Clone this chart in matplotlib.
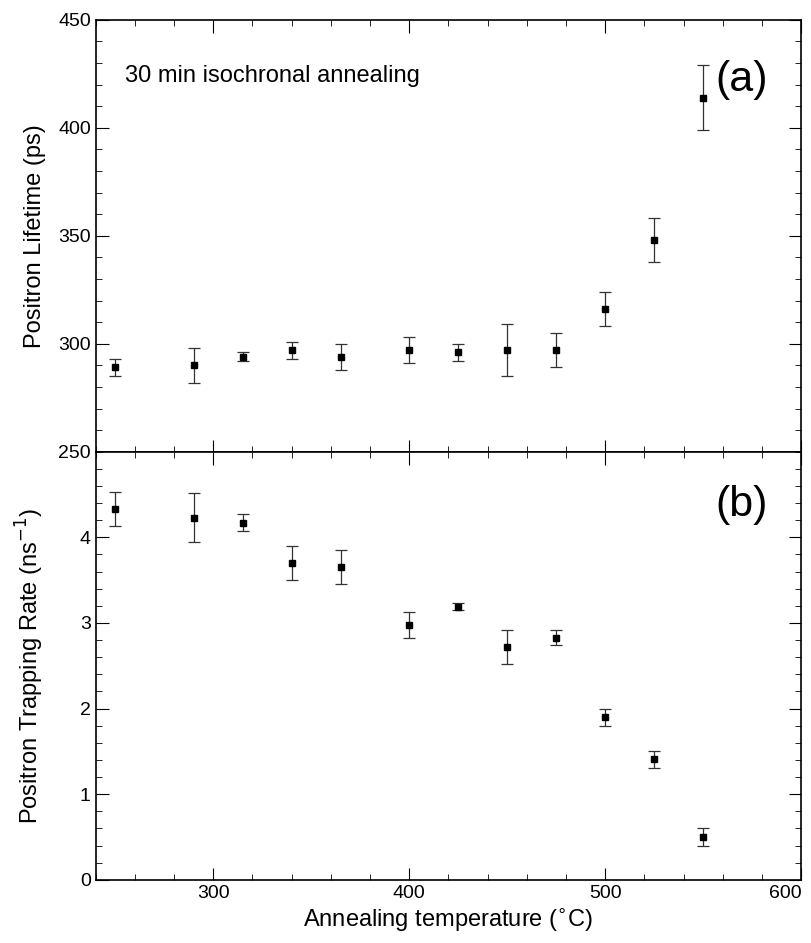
import matplotlib.pyplot as plt
from matplotlib.ticker import MultipleLocator

plt.rcParams['font.family'] = ['Liberation Sans', 'DejaVu Sans']

temps = [250, 290, 315, 340, 365, 400, 425, 450, 475, 500, 525, 550]
lifetime = [289, 290, 294, 297, 294, 297, 296, 297, 297, 316, 348, 414]
lifetime_err = [4, 8, 2, 4, 6, 6, 4, 12, 8, 8, 10, 15]
trap_rate = [4.33, 4.23, 4.17, 3.70, 3.65, 2.98, 3.19, 2.72, 2.83, 1.90, 1.41, 0.50]
trap_err = [0.20, 0.29, 0.10, 0.20, 0.20, 0.15, 0.04, 0.20, 0.09, 0.10, 0.10, 0.10]

fig = plt.figure(figsize=(8.11, 9.43), dpi=100)
ax1 = fig.add_axes([0.118, 0.521, 0.870, 0.458])
ax2 = fig.add_axes([0.118, 0.067, 0.870, 0.454], sharex=ax1)

for ax in (ax1, ax2):
    ax.tick_params(which='both', direction='in', top=True, right=True, labelsize=14)
    ax.tick_params(which='major', length=9, width=0.8)
    ax.tick_params(which='minor', length=4, width=0.6)
    ax.xaxis.set_minor_locator(MultipleLocator(20))
    for s in ax.spines.values():
        s.set_linewidth(1.2)

ax1.errorbar(temps, lifetime, yerr=lifetime_err, fmt='s', color='black',
             ms=5, ecolor='#333333', elinewidth=0.9, capsize=4, capthick=0.9)
ax1.set_xlim(240, 600)
ax1.set_xticks([300, 400, 500, 600])
ax1.set_ylim(250, 450)
ax1.yaxis.set_major_locator(MultipleLocator(50))
ax1.yaxis.set_minor_locator(MultipleLocator(10))
ax1.set_ylabel('Positron Lifetime (ps)', fontsize=17)
ax1.yaxis.set_label_coords(-0.07, 0.5)
ax1.tick_params(labelbottom=False)
ax1.text(255, 424, '30 min isochronal annealing', fontsize=17, va='center')
ax1.text(556, 422, '(a)', fontsize=31, va='center')

ax2.errorbar(temps, trap_rate, yerr=trap_err, fmt='s', color='black',
             ms=5, ecolor='#333333', elinewidth=0.9, capsize=4, capthick=0.9)
ax2.set_ylim(0, 5)
ax2.yaxis.set_minor_locator(MultipleLocator(0.2))
ax2.set_yticks([0, 1, 2, 3, 4])
ax2.set_ylabel('Positron Trapping Rate (ns$^{-1}$)', fontsize=17)
ax2.yaxis.set_label_coords(-0.07, 0.5)
ax2.set_xlabel('Annealing temperature ($^{\\circ}$C)', fontsize=17)
ax2.text(556, 4.38, '(b)', fontsize=31, va='center')

# last x label sits inside the right edge like the original
fig.canvas.draw()
ax2.get_xticklabels()[-1].set_horizontalalignment('right')

fig.savefig('out.png', dpi=100)
